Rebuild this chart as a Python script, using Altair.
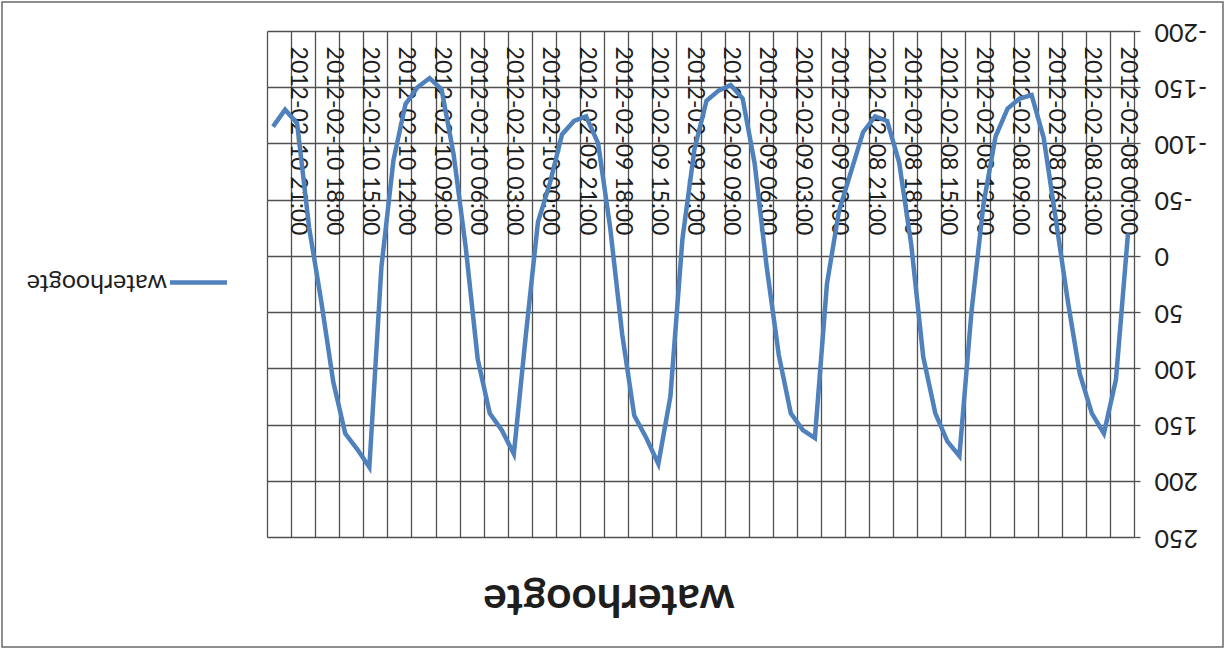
import altair as alt
import pandas as pd

# Hourly time stamps, 8 to 10 February 2012
timestamps = [
    f"2012-02-{day:02d} {hour:02d}:00" for day in (8, 9, 10) for hour in range(24)
]

# Water level per hour
levels = [
    -20, 110, 158, 140, 105, 40, -33, -105, -143, -140,
    -131, -106, -46, 50, 178, 165, 140, 90, -10, -83,
    -120, -124, -110, -75, -40, 25, 162, 155, 140, 88,
    10, -82, -140, -152, -147, -138, -95, -15, 125, 185,
    162, 142, 70, -25, -100, -124, -120, -108, -65, -30,
    70, 176, 155, 140, 92, -8, -90, -148, -158, -150,
    -135, -85, 10, 188, 172, 158, 112, 40, -25, -118,
    -130, -115,
]

y_ticks = [-200, -150, -100, -50, 0, 50, 100, 150, 200, 250]
series_name = "waterhoogte"
chart_title = "waterhoogte"

LINE_COLOR = "#4f81bd"
GRID_COLOR = "#505050"
TEXT_COLOR = "#1e1e1e"
FONT = "Lato"

W, H = 867, 506
n = len(timestamps)

df = pd.DataFrame({"uur": list(range(n)), "tijd": timestamps, "waterhoogte": levels})

x_scale = alt.Scale(domain=[-0.5, n - 0.5], reverse=True, nice=False, zero=False)
y_scale = alt.Scale(domain=[y_ticks[0], y_ticks[-1]], reverse=True, nice=False, zero=False)

grid_values = [k - 0.5 for k in range(0, n + 1, 2)]
label_values = list(range(0, n, 3))
label_lookup = "[" + ",".join(f"'{t}'" for t in timestamps) + "][datum.value]"

y_enc = alt.Y(
    "waterhoogte:Q",
    scale=y_scale,
    axis=alt.Axis(
        orient="right", values=y_ticks, title=None, grid=True,
        gridColor=GRID_COLOR, gridWidth=1.3, domain=False,
        ticks=True, tickSize=6, tickColor=GRID_COLOR, tickWidth=1.3,
        labelAngle=180, labelAlign="right", labelBaseline="middle",
        labelPadding=14, labelFontSize=25, labelFont=FONT,
        labelColor=TEXT_COLOR, labelExpr="'' + datum.value",
        labelFlush=False, labelOverlap=False,
    ),
)

# Line with the vertical grid (every two hours)
line = alt.Chart(df).mark_line(color=LINE_COLOR, strokeWidth=4.5).encode(
    x=alt.X(
        "uur:Q", scale=x_scale,
        axis=alt.Axis(
            orient="bottom", values=grid_values, title=None, grid=True,
            gridColor=GRID_COLOR, gridWidth=1.3, labels=False, ticks=False,
            domain=False,
        ),
    ),
    y=y_enc,
)

# Category labels placed on the zero line, every three hours
label_axis = alt.Chart(df).mark_line(opacity=0).encode(
    x=alt.X(
        "uur:Q", scale=x_scale,
        axis=alt.Axis(
            orient="top", values=label_values, title=None, grid=False,
            ticks=False, domain=False, offset=-H * 200 / 450,
            labelAngle=90, labelAlign="right", labelBaseline="middle",
            labelPadding=21, labelFontSize=23, labelFont=FONT,
            labelColor=TEXT_COLOR, labelExpr=label_lookup, labelLimit=400,
            labelFlush=False, labelOverlap=False,
        ),
    ),
    y=y_enc,
)

single = pd.DataFrame({"naam": [series_name], "titel": [chart_title]})

legend_line = alt.Chart(single).mark_rule(color=LINE_COLOR, strokeWidth=4.5).encode(
    x=alt.value(-97), x2=alt.value(-40), y=alt.value(251.5)
)
legend_text = alt.Chart(single).mark_text(
    angle=180, align="left", baseline="middle", fontSize=25, font=FONT, color=TEXT_COLOR
).encode(x=alt.value(-100), y=alt.value(252), text="naam:N")

title = alt.Chart(single).mark_text(
    angle=180, align="center", baseline="middle", fontSize=44, font=FONT,
    fontWeight="bold", color=TEXT_COLOR,
).encode(x=alt.value(342), y=alt.value(567), text="titel:N")

frame = alt.Chart(single).mark_rect(
    fillOpacity=0, stroke="#6a6a6a", strokeWidth=1.5
).encode(x=alt.value(-265), x2=alt.value(956), y=alt.value(-29), y2=alt.value(616))

chart = (
    alt.layer(line, label_axis, legend_line, legend_text, title, frame)
    .resolve_axis(x="independent")
    .properties(
        width=W, height=H,
        autosize=alt.AutoSizeParams(type="none"),
        padding={"left": 267, "top": 31, "right": 94, "bottom": 114},
        background="white",
    )
    .configure_view(stroke=None)
)

chart.save("out.html", embed_options={"renderer": "svg", "actions": False})
